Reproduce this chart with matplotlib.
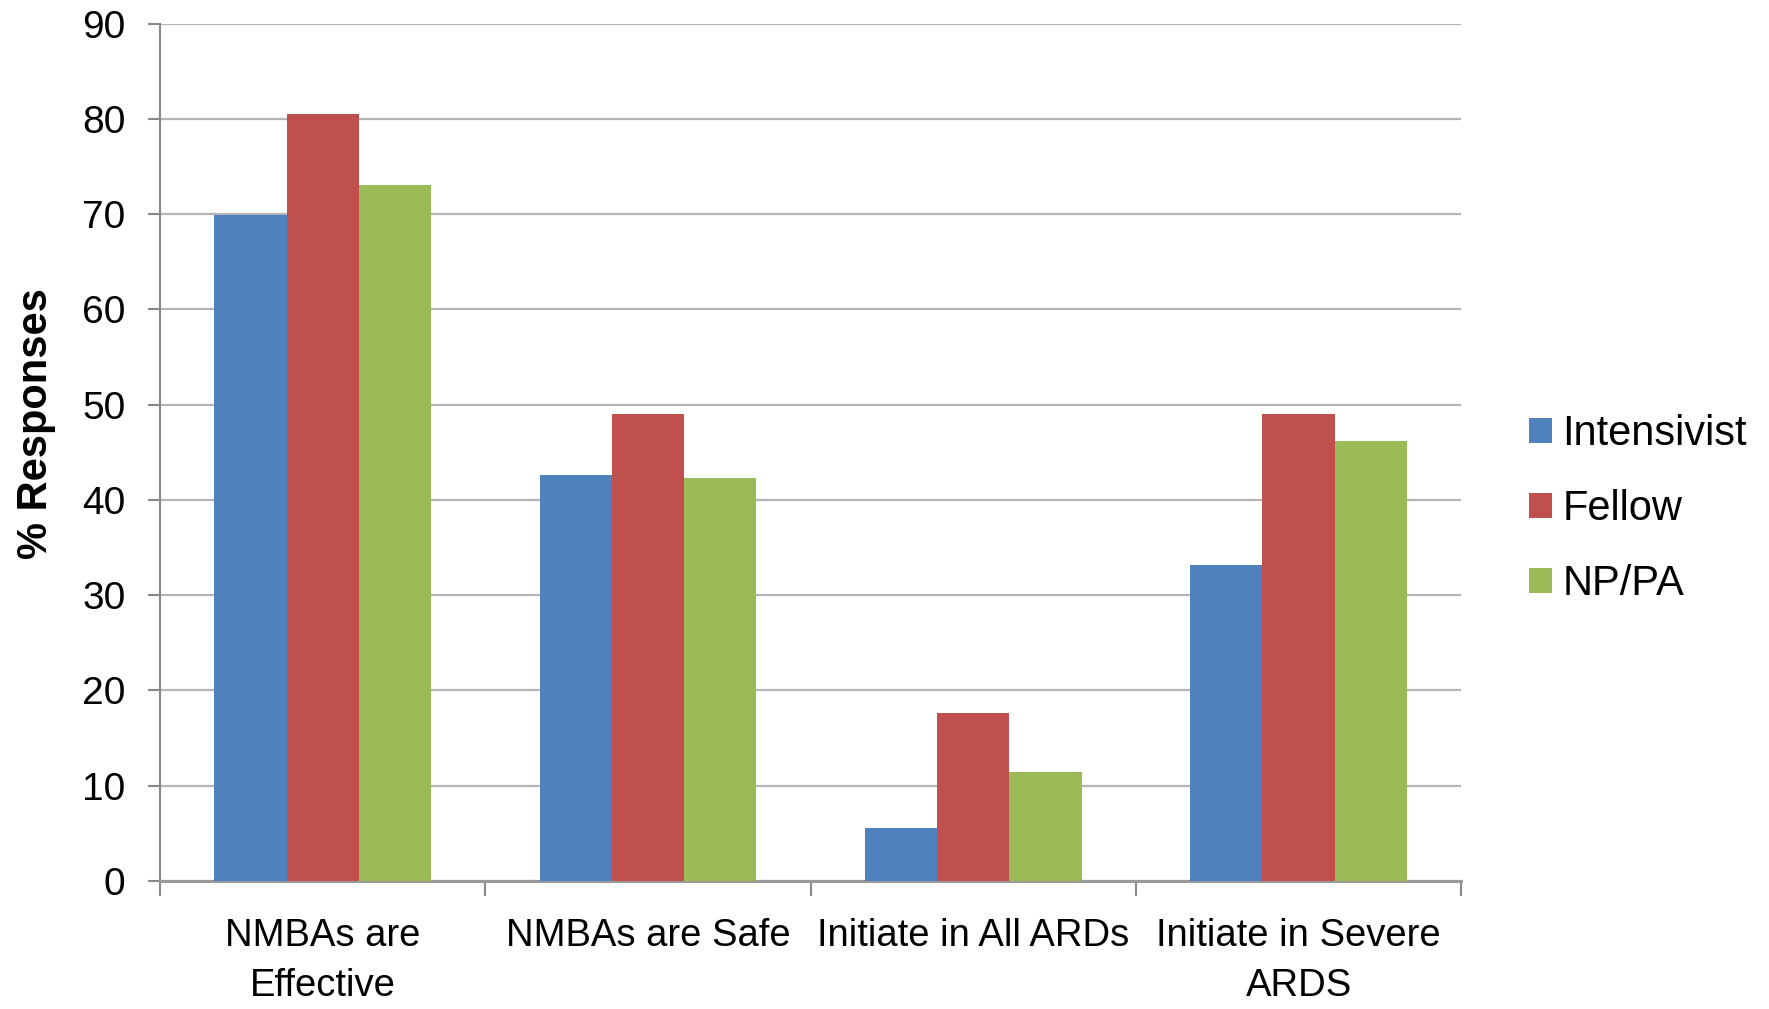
import matplotlib
matplotlib.use("Agg")
import matplotlib.pyplot as plt
import numpy as np

categories = ["NMBAs are\nEffective", "NMBAs are Safe", "Initiate in All ARDs", "Initiate in Severe\nARDS"]
series_names = ["Intensivist", "Fellow", "NP/PA"]
intensivist = [69.9, 42.6, 5.6, 33.2]
fellow = [80.5, 49.0, 17.6, 49.0]
np_pa = [73.1, 42.3, 11.4, 46.2]
y_ticks = [0, 10, 20, 30, 40, 50, 60, 70, 80, 90]

colors = ["#4F81BD", "#C0504D", "#9BBB59"]

plt.rcParams['font.family'] = ['Liberation Sans', 'DejaVu Sans']

fig = plt.figure(figsize=(17.69, 10.09), dpi=100)
ax = fig.add_axes([0.0905, 0.127, 0.7355, 0.8495])

x = np.arange(len(categories))
w = 0.222
data = [intensivist, fellow, np_pa]
for i, (vals, name, c) in enumerate(zip(data, series_names, colors)):
    ax.bar(x + (i - 1) * w, vals, width=w, color=c, label=name, zorder=3)

ax.set_xlim(-0.5, len(categories) - 0.5)
ax.set_ylim(0, 90)
ax.set_yticks(y_ticks)
ax.set_yticklabels([str(v) for v in y_ticks], fontsize=28)

ax.yaxis.grid(True, color="#b5b5b5", linewidth=1.6, zorder=0)
ax.set_axisbelow(True)

# x ticks: major at boundaries (marks), minor at centers (labels)
ax.set_xticks(np.arange(-0.5, len(categories), 1.0))
ax.set_xticklabels([])
ax.set_xticks(x, minor=True)
ax.set_xticklabels(categories, minor=True, fontsize=27.5, linespacing=1.5)
ax.tick_params(axis='x', which='major', length=11, width=1.5, color="#888888", direction='out')
ax.tick_params(axis='x', which='minor', length=0, pad=27)
ax.tick_params(axis='y', length=9, width=1.5, color="#888888", direction='out', pad=16)

for s in ["top", "right"]:
    ax.spines[s].set_visible(False)
ax.spines["left"].set_color("#888888")
ax.spines["left"].set_linewidth(1.5)
ax.spines["bottom"].set_color("#999999")
ax.spines["bottom"].set_linewidth(2.2)

ax.set_ylabel("% Responses", fontsize=30, fontweight='bold')
ax.yaxis.set_label_coords(-0.080, 0.534)

fig.legend(loc='center left', bbox_to_anchor=(0.855, 0.4955), frameon=False,
           fontsize=30, handlelength=0.55, handleheight=0.55, handletextpad=0.25,
           labelspacing=0.84, borderaxespad=0)

fig.savefig("out.png", dpi=100)
